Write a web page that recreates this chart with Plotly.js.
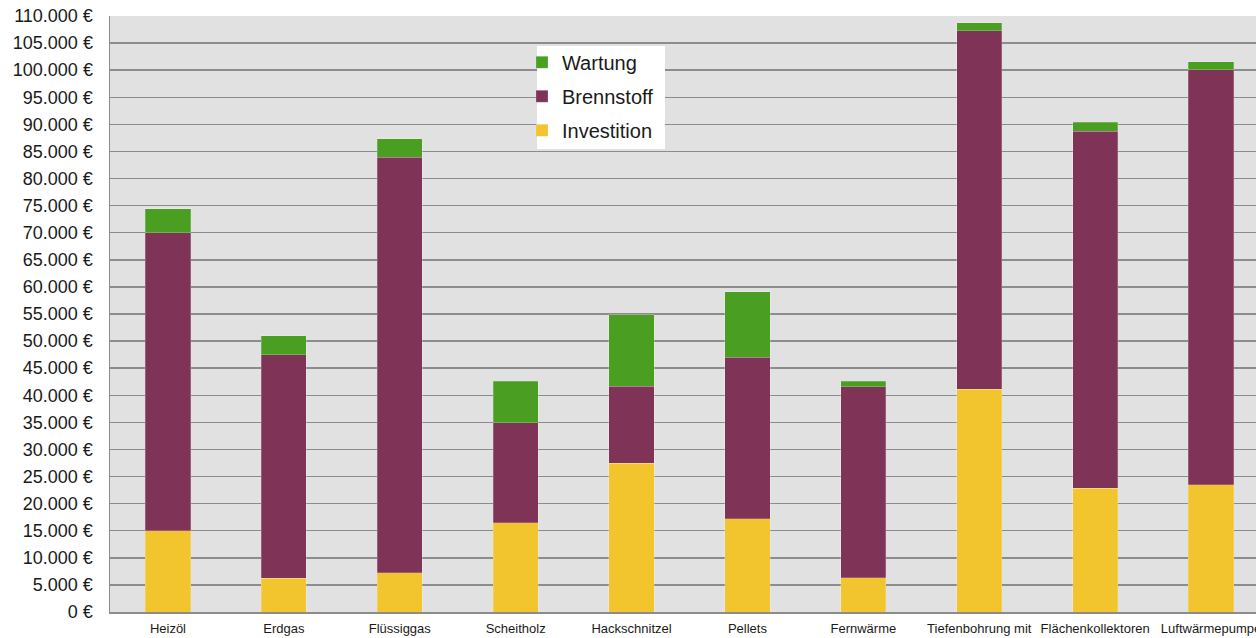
<!DOCTYPE html>
<html>
<head>
<meta charset="utf-8">
<script src="https://cdn.plot.ly/plotly-3.0.1.min.js"></script>
<style>
html,body{margin:0;padding:0;background:#fff;overflow:hidden;}
#chart{width:1256px;height:638px;}
</style>
</head>
<body>
<div id="chart"></div>
<script>
const categories = ["Heizöl","Erdgas","Flüssiggas","Scheitholz","Hackschnitzel","Pellets","Fernwärme","Tiefenbohrung mit","Flächenkollektoren","Luftwärmepumpe"];
const investition = [15000, 6200, 7200, 16500, 27500, 17200, 6300, 41100, 22800, 23500];
const brennstoff  = [55000, 41300, 76700, 18400, 14200, 29800, 35300, 66200, 65900, 76600];
const wartung     = [4400, 3500, 3400, 7700, 13200, 12100, 1000, 1500, 1700, 1500];
const yTickVals = [0,5000,10000,15000,20000,25000,30000,35000,40000,45000,50000,55000,60000,65000,70000,75000,80000,85000,90000,95000,100000,105000,110000];
const yTickText = yTickVals.map(v => String(v).replace(/\B(?=(\d{3})+(?!\d))/g, '.') + ' €');

const fontFam = "Liberation Sans, Arial, Helvetica, sans-serif";
const xIdx = categories.map((c,i)=>i);

const traces = [
  {type:'bar', name:'Investition', x:xIdx, y:investition, legendgroup:'a', legendrank:3,
   marker:{color:'#f2c42e', line:{color:'rgba(255,255,255,0.35)', width:0.6}}},
  {type:'bar', name:'Brennstoff', x:xIdx, y:brennstoff, legendgroup:'b', legendrank:2,
   marker:{color:'#7f3357', line:{color:'rgba(255,255,255,0.35)', width:0.6}}},
  {type:'bar', name:'Wartung', x:xIdx, y:wartung, legendgroup:'c', legendrank:1,
   marker:{color:'#4a9e22', line:{color:'rgba(255,255,255,0.35)', width:0.6}}}
];

const layout = {
  width:1256, height:638,
  margin:{l:110, r:0, t:16, b:26, pad:0},
  paper_bgcolor:'#ffffff',
  plot_bgcolor:'#e1e1e1',
  barmode:'stack',
  bargap:0.61,
  showlegend:true,
  font:{family:fontFam, color:'#222'},
  shapes:[{type:'rect', xref:'paper', yref:'paper', x0:0.3726, x1:0.4843, y0:0.7768, y1:0.9497,
           fillcolor:'#ffffff', line:{width:0}, layer:'above'}],
  legend:{
    x:0.3595, y:0.955, xanchor:'left', yanchor:'top',
    bgcolor:'rgba(0,0,0,0)', borderwidth:0,
    traceorder:'grouped', tracegroupgap:5,
    font:{size:20, family:fontFam, color:'#1a1a1a'},
    itemwidth:30
  },
  xaxis:{
    type:'linear',
    range:[-0.5, 9.388],
    tickmode:'array', tickvals:xIdx, ticktext:categories,
    ticklabeloverflow:'allow',
    showgrid:false, zeroline:false,
    showline:true, linecolor:'#8c8c8c', linewidth:1.5,
    ticks:'', ticklabelstandoff:4,
    tickfont:{size:13, family:fontFam, color:'#1a1a1a'},
    fixedrange:true
  },
  yaxis:{
    range:[0,110000],
    tickmode:'array', tickvals:yTickVals, ticktext:yTickText,
    ticklabeloverflow:'allow',
    showgrid:true, gridcolor:'#8c8c8c', gridwidth:1.5,
    zeroline:false,
    showline:true, linecolor:'#8c8c8c', linewidth:1.5,
    ticks:'', ticklabelstandoff:12,
    tickfont:{size:18, family:fontFam, color:'#1a1a1a'},
    fixedrange:true
  }
};

Plotly.newPlot('chart', traces, layout, {displayModeBar:false, staticPlot:true});
</script>
</body>
</html>
